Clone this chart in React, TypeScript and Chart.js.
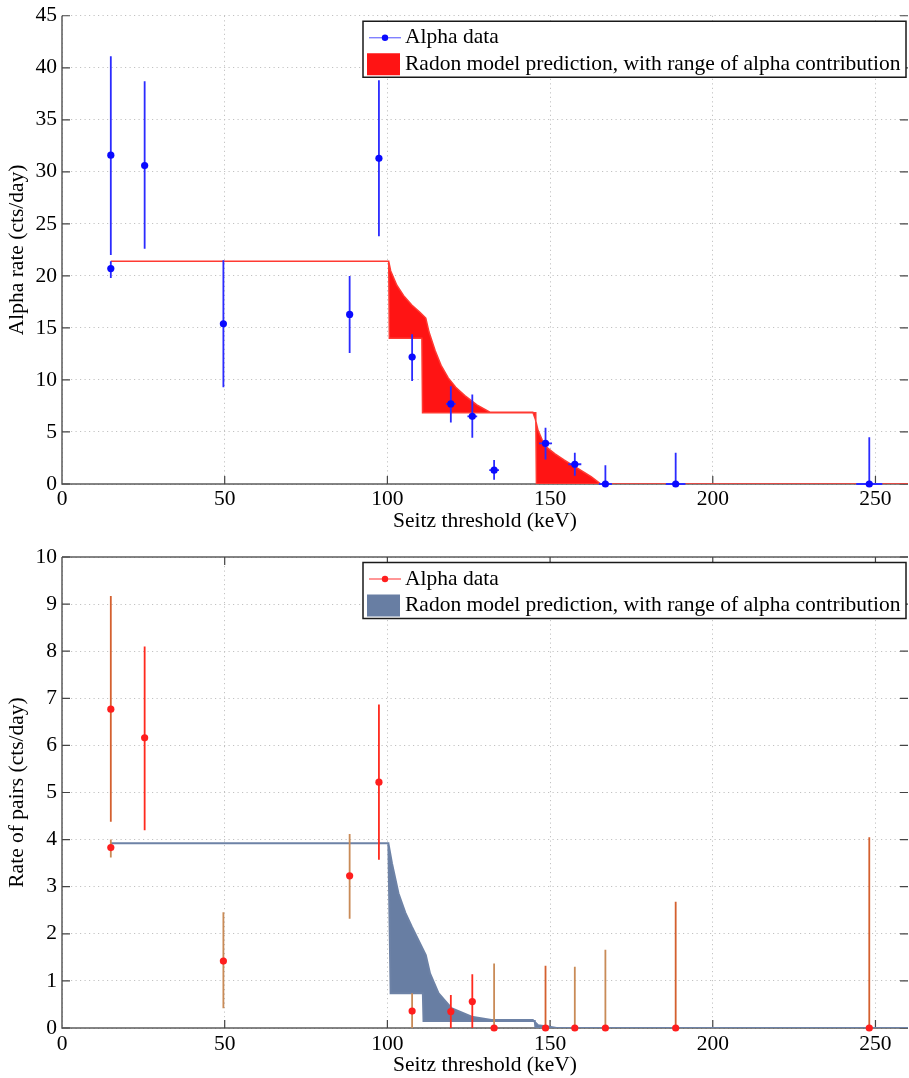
import React, { useEffect, useRef } from 'react';
import { Chart, registerables } from 'chart.js';

Chart.register(...registerables);

// Seitz threshold of each measurement (keV); the first threshold has two measurements
const thresholds = [15, 15, 25.4, 49.6, 88.4, 97.4, 107.6, 119.5, 126.1, 132.8, 148.6, 157.6, 167, 188.6, 248.1];
// half width of the threshold uncertainty (keV) for the alpha rate data
const thresholdHalfWidth = [0, 0, 0, 0, 0, 0, 1, 1.5, 1.5, 1.5, 2, 2, 2, 3, 4];

// Alpha rate (cts/day) with lower / upper error bounds
const alphaRate = [31.6, 20.7, 30.6, 15.4, 16.3, 31.3, 12.2, 7.7, 6.5, 1.33, 3.9, 1.9, 0, 0, 0];
const alphaRateLow = [22.0, 19.8, 22.6, 9.3, 12.6, 23.8, 9.9, 5.9, 4.45, 0.4, 2.35, 0.8, 0, 0, 0];
const alphaRateHigh = [41.1, 21.4, 38.7, 21.5, 20.0, 38.8, 14.4, 9.4, 8.6, 2.3, 5.4, 3.0, 1.8, 3.0, 4.5];

// Rate of pairs (cts/day) with lower / upper error bounds
const pairRate = [6.77, 3.83, 6.16, 1.42, 3.23, 5.22, 0.36, 0.35, 0.56, 0, 0, 0, 0, 0, 0];
const pairRateLow = [4.38, 3.62, 4.2, 0.42, 2.32, 3.57, 0, 0, 0, 0, 0, 0, 0, 0, 0];
const pairRateHigh = [9.17, 4.0, 8.1, 2.46, 4.12, 6.87, 0.74, 0.7, 1.14, 1.37, 1.32, 1.3, 1.66, 2.68, 4.05];

// Radon model band for the alpha rate: upper and lower edges
const alphaBandUpperX = [15, 100.4, 101, 102.9, 105, 107.5, 110, 111.8, 112.8, 114.7, 116.5, 118.7, 121, 123.8, 127.5, 131.5, 144.7, 145.5, 146.3, 147.5, 148.8, 151.5, 154.4, 158.5, 162.6, 165.6, 260];
const alphaBandUpperY = [21.4, 21.4, 20.5, 19.1, 18.1, 17.2, 16.5, 15.95, 14.6, 12.8, 11.4, 10.2, 9.3, 8.5, 7.6, 6.9, 6.9, 6.2, 5.15, 4.3, 3.56, 2.9, 2.29, 1.5, 0.7, 0, 0];
const alphaBandLowerX = [15, 100.4, 100.6, 110.6, 110.8, 145.6, 145.8, 260];
const alphaBandLowerY = [21.4, 21.4, 14.0, 14.0, 6.85, 6.85, 0, 0];

// Radon model band for the rate of pairs: upper and lower edges
const pairBandUpperX = [15, 100.3, 101.4, 103.4, 105.5, 107.5, 111.8, 113.1, 115.7, 119.7, 125.9, 132, 144.7, 146.3, 150.2, 152, 260];
const pairBandUpperY = [3.92, 3.92, 3.5, 2.86, 2.45, 2.15, 1.55, 1.16, 0.74, 0.42, 0.24, 0.17, 0.17, 0.06, 0.02, 0, 0];
const pairBandLowerX = [15, 100.3, 101, 110.9, 111.1, 145.3, 145.5, 260];
const pairBandLowerY = [3.92, 3.92, 0.74, 0.74, 0.15, 0.15, 0, 0];

const xTickValues = [0, 50, 100, 150, 200, 250];

const SERIF = '"Liberation Serif", "Times New Roman", serif';
const FONT_SIZE = 21.5;

// error bar tone of each pair-rate measurement
const pairBarTone = ['rust', 'tan', 'red', 'tan', 'tan', 'red', 'tan', 'red', 'red', 'tan', 'rust', 'tan', 'tan', 'rust', 'rust'];
const toneColors: Record<string, string> = { red: '#ff2a1e', tan: '#c98b57', rust: '#d4602f' };

type Pt = { x: number; y: number | null };

function bandPolygon(ux: number[], uy: number[], lx: number[], ly: number[]): Pt[] {
  const up = ux.map((x, i) => ({ x, y: uy[i] }));
  const low = lx.map((x, i) => ({ x, y: ly[i] })).reverse();
  return [...up, ...low];
}

function errorSegments(
  xs: number[], vals: number[], lo: number[], hi: number[],
  keep: (i: number) => boolean, xHalf?: number[]
): Pt[] {
  const pts: Pt[] = [];
  xs.forEach((x, i) => {
    if (!keep(i)) return;
    if (hi[i] > lo[i]) pts.push({ x, y: lo[i] }, { x, y: hi[i] }, { x, y: null });
    if (xHalf && xHalf[i] > 0) {
      pts.push({ x: x - xHalf[i], y: vals[i] }, { x: x + xHalf[i], y: vals[i] }, { x, y: null });
    }
  });
  return pts;
}

type Spec = {
  values: number[];
  low: number[];
  high: number[];
  xHalf?: number[];
  band: Pt[];
  yMax: number;
  yStep: number;
  yTitle: string;
  pointColor: string;
  legendLineColor: string;
  barGroups: { color: string; keep: (i: number) => boolean }[];
  bandColor: string;
  bandBorderColor: string;
  bandBorderWidth: number;
  padTop: number;
  xHeight: number;
  xTitlePad: number;
  xTickPad: number;
  topBorder: boolean;
};

function buildChart(canvas: HTMLCanvasElement, s: Spec) {
  const font = { family: SERIF, size: FONT_SIZE, lineHeight: 1.2 };

  // axis box with inward ticks, drawn under the data
  const framePlugin = {
    id: 'matlabFrame',
    beforeDatasetsDraw(chart: any) {
      const { ctx, chartArea: a, scales } = chart;
      ctx.save();
      ctx.strokeStyle = '#5c5c5c';
      ctx.lineWidth = 1.5;
      ctx.beginPath();
      ctx.moveTo(a.left, a.top);
      ctx.lineTo(a.left, a.bottom);
      ctx.lineTo(a.right, a.bottom);
      if (s.topBorder) {
        ctx.moveTo(a.left, a.top);
        ctx.lineTo(a.right, a.top);
      }
      ctx.stroke();
      ctx.strokeStyle = '#444';
      ctx.lineWidth = 1.2;
      ctx.beginPath();
      scales.x.ticks.forEach((t: any) => {
        const px = scales.x.getPixelForValue(t.value);
        if (px <= a.left + 1) return;
        ctx.moveTo(px, a.bottom);
        ctx.lineTo(px, a.bottom - 8);
        if (s.topBorder) {
          ctx.moveTo(px, a.top);
          ctx.lineTo(px, a.top + 8);
        }
      });
      scales.y.ticks.forEach((t: any) => {
        const py = scales.y.getPixelForValue(t.value);
        ctx.moveTo(a.left, py);
        ctx.lineTo(a.left + 8, py);
        ctx.moveTo(a.right, py);
        ctx.lineTo(a.right - 8, py);
      });
      ctx.stroke();
      ctx.restore();
    },
  };

  // boxed legend in the upper right of the plot area
  const legendPlugin = {
    id: 'boxLegend',
    afterDraw(chart: any) {
      const { ctx, chartArea: a } = chart;
      const ds = chart.data.datasets;
      const left = 363;
      const right = 906;
      const top = a.top + 5.5;
      const h = 56;
      ctx.save();
      ctx.fillStyle = '#fff';
      ctx.fillRect(left, top, right - left, h);
      ctx.strokeStyle = '#1a1a1a';
      ctx.lineWidth = 1.5;
      ctx.strokeRect(left, top, right - left, h);

      const row1 = a.top + 22;
      const row2 = a.top + 48.5;
      ctx.strokeStyle = s.legendLineColor;
      ctx.lineWidth = 1.2;
      ctx.beginPath();
      ctx.moveTo(369, row1);
      ctx.lineTo(401, row1);
      ctx.stroke();
      ctx.fillStyle = s.pointColor;
      ctx.beginPath();
      ctx.arc(385, row1, 3.2, 0, Math.PI * 2);
      ctx.fill();

      ctx.fillStyle = s.bandColor;
      ctx.fillRect(367, a.top + 37.5, 33, 22);

      ctx.fillStyle = '#000';
      ctx.font = `${FONT_SIZE}px ${SERIF}`;
      ctx.textBaseline = 'middle';
      ctx.textAlign = 'left';
      ctx.fillText(ds[0].label, 405, row1);
      ctx.fillText(ds[ds.length - 1].label, 405, row2);
      ctx.restore();
    },
  };

  const points = thresholds.map((x, i) => ({ x, y: s.values[i] }));

  const datasets: any[] = [
    {
      label: 'Alpha data',
      data: points,
      showLine: false,
      pointRadius: 3.6,
      pointBackgroundColor: s.pointColor,
      pointBorderWidth: 0,
      clip: false,
      order: 0,
    },
    ...s.barGroups.map((g, gi) => ({
      label: 'error' + gi,
      data: errorSegments(thresholds, s.values, s.low, s.high, g.keep, s.xHalf),
      borderColor: g.color,
      borderWidth: 1.8,
      pointRadius: 0,
      fill: false,
      spanGaps: false,
      clip: false,
      order: 1,
    })),
    {
      label: 'Radon model prediction, with range of alpha contribution',
      data: s.band,
      fill: 'shape',
      backgroundColor: s.bandColor,
      borderColor: s.bandBorderColor,
      borderWidth: s.bandBorderWidth,
      pointRadius: 0,
      tension: 0,
      order: 2,
    },
  ];

  const gridColor = '#c2c2c2';
  const gridDash = [1.2, 3.3];

  return new Chart(canvas, {
    type: 'line',
    data: { datasets },
    options: {
      responsive: false,
      animation: false,
      devicePixelRatio: 1,
      events: [],
      layout: { padding: { top: s.padTop, left: 0, right: 0, bottom: 0 } },
      plugins: { legend: { display: false }, tooltip: { enabled: false } },
      scales: {
        x: {
          type: 'linear',
          min: 0,
          max: 260,
          afterBuildTicks: (scale: any) => {
            scale.ticks = xTickValues.map((v) => ({ value: v }));
          },
          ticks: {
            font: { ...font, lineHeight: 1 },
            color: '#000',
            padding: s.xTickPad,
            maxRotation: 0,
            autoSkip: false,
          },
          grid: { color: gridColor, lineWidth: 1, drawTicks: false },
          border: { display: false, dash: gridDash },
          title: {
            display: true,
            text: 'Seitz threshold (keV)',
            font,
            color: '#000',
            padding: { top: 0, bottom: s.xTitlePad },
          },
          afterFit: (scale: any) => {
            scale.height = s.xHeight;
          },
        },
        y: {
          type: 'linear',
          min: 0,
          max: s.yMax,
          ticks: {
            stepSize: s.yStep,
            font: { ...font, lineHeight: 1 },
            color: '#000',
            padding: 5,
          },
          grid: { color: gridColor, lineWidth: 1, drawTicks: false },
          border: { display: false, dash: gridDash },
          title: {
            display: true,
            text: s.yTitle,
            font,
            color: '#000',
            padding: { top: 4, bottom: 0 },
          },
          afterFit: (scale: any) => {
            scale.width = 62;
          },
        },
      },
    } as any,
    plugins: [framePlugin, legendPlugin],
  });
}

export default function App() {
  const topRef = useRef<HTMLCanvasElement>(null);
  const bottomRef = useRef<HTMLCanvasElement>(null);

  useEffect(() => {
    const charts = [
      buildChart(topRef.current!, {
        values: alphaRate,
        low: alphaRateLow,
        high: alphaRateHigh,
        xHalf: thresholdHalfWidth,
        band: bandPolygon(alphaBandUpperX, alphaBandUpperY, alphaBandLowerX, alphaBandLowerY),
        yMax: 45,
        yStep: 5,
        yTitle: 'Alpha rate (cts/day)',
        pointColor: '#0a0aff',
        legendLineColor: '#6b6bff',
        barGroups: [{ color: '#2b2bff', keep: () => true }],
        bandColor: '#ff1414',
        bandBorderColor: '#ff3a32',
        bandBorderWidth: 1.5,
        padTop: 12,
        xHeight: 55,
        xTitlePad: 5,
        xTickPad: 5,
        topBorder: false,
      }),
      buildChart(bottomRef.current!, {
        values: pairRate,
        low: pairRateLow,
        high: pairRateHigh,
        band: bandPolygon(pairBandUpperX, pairBandUpperY, pairBandLowerX, pairBandLowerY),
        yMax: 10,
        yStep: 1,
        yTitle: 'Rate of pairs (cts/day)',
        pointColor: '#ff1e1e',
        legendLineColor: '#ff5050',
        barGroups: ['red', 'tan', 'rust'].map((tone) => ({
          color: toneColors[tone],
          keep: (i: number) => pairBarTone[i] === tone,
        })),
        bandColor: '#687ea3',
        bandBorderColor: '#6d82a6',
        bandBorderWidth: 2,
        padTop: 18,
        xHeight: 50,
        xTitlePad: 0,
        xTickPad: 6,
        topBorder: true,
      }),
    ];
    return () => charts.forEach((c) => c.destroy());
  }, []);

  return (
    <div
      style={{
        position: 'fixed',
        left: 0,
        top: 0,
        width: 909,
        height: 1078,
        overflow: 'hidden',
        background: '#fff',
      }}
    >
      <div style={{ position: 'absolute', left: 0, top: 0, width: 912, height: 539 }}>
        <canvas ref={topRef} width={912} height={539} style={{ display: 'block' }} />
      </div>
      <div style={{ position: 'absolute', left: 0, top: 539, width: 912, height: 539 }}>
        <canvas ref={bottomRef} width={912} height={539} style={{ display: 'block' }} />
      </div>
    </div>
  );
}
